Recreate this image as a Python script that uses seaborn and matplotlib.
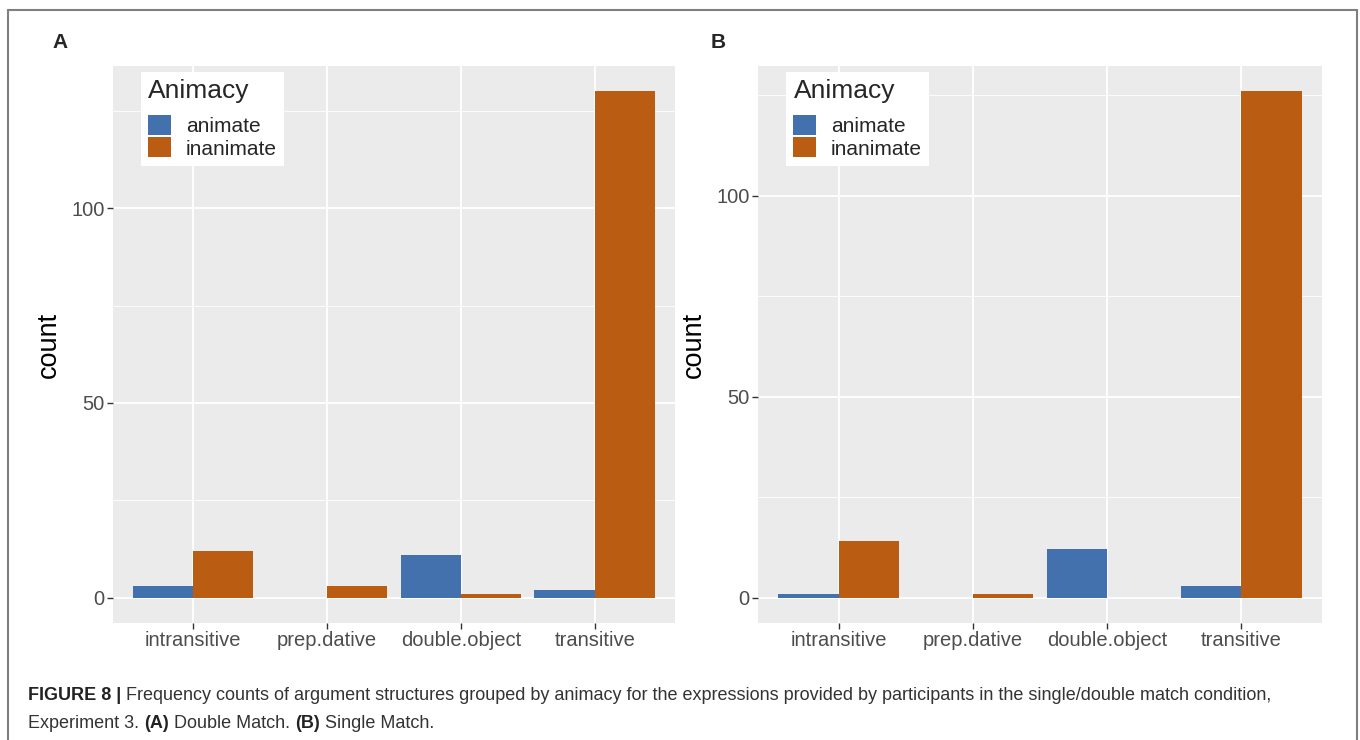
import pandas as pd
import seaborn as sns
import matplotlib.pyplot as plt
from matplotlib.lines import Line2D
from matplotlib.patches import Patch
from matplotlib.ticker import MultipleLocator

# --- Data ---
structures = ['intransitive', 'prep.dative', 'double.object', 'transitive']
animacy_levels = ['animate', 'inanimate']
double_animate = [3, 0, 11, 2]
double_inanimate = [12, 3, 1, 130]
single_animate = [1, 0, 12, 3]
single_inanimate = [14, 1, 0, 126]
y_ticks = [0, 50, 100]
panel_labels = ['A', 'B']
palette = {'animate': '#4271AE', 'inanimate': '#BA5C12'}

caption_line1 = [('FIGURE 8 | ', 'bold'),
                 ('Frequency counts of argument structures grouped by animacy for the expressions '
                  'provided by participants in the single/double match condition,', 'normal')]
caption_line2 = [('Experiment 3. ', 'normal'), ('(A)', 'bold'), (' Double Match. ', 'normal'),
                 ('(B)', 'bold'), (' Single Match.', 'normal')]


def make_frame(animate, inanimate):
    return pd.DataFrame({
        'structure': structures * 2,
        'Animacy': ['animate'] * len(structures) + ['inanimate'] * len(structures),
        'count': animate + inanimate,
    })


sns.set_theme(style='darkgrid', rc={
    'axes.facecolor': '#EBEBEB',
    'grid.color': 'white',
    'axes.edgecolor': 'none',
})
plt.rcParams['font.family'] = ['Liberation Sans', 'DejaVu Sans']

W, H = 1360, 740
fig = plt.figure(figsize=(W / 100, H / 100), dpi=100)

# panel boxes in pixels: left, top, width, height
panels = [
    (make_frame(double_animate, double_inanimate), [113, 66, 562, 557], 60),
    (make_frame(single_animate, single_inanimate), [758, 66, 564, 557], 718),
]

for (df, (px, py, pw, ph), lab_x), label in zip(panels, panel_labels):
    ax = fig.add_axes([px / W, 1 - (py + ph) / H, pw / W, ph / H])
    sns.barplot(data=df, x='structure', y='count', hue='Animacy', order=structures,
                hue_order=animacy_levels, palette=palette, width=0.9, linewidth=0,
                saturation=1, legend=False, ax=ax)

    # ggplot-style 5% expansion
    ymax = df['count'].max()
    ax.set_ylim(-0.05 * ymax, ymax * 1.05)
    ax.set_xlim(-0.6, len(structures) - 0.4)
    ax.set_yticks(y_ticks)
    ax.yaxis.set_minor_locator(MultipleLocator(25))
    ax.set_axisbelow(True)
    ax.grid(which='major', color='white', linewidth=1.3)
    ax.grid(which='minor', axis='y', color='white', linewidth=0.6)
    for s in ax.spines.values():
        s.set_visible(False)
    ax.tick_params(which='major', length=4, width=1, color='#333333', labelcolor='#4D4D4D',
                   labelsize=14.5, pad=2, left=True, bottom=True)
    ax.tick_params(which='minor', length=0)
    ax.set_xlabel('')
    ax.set_ylabel('count', fontsize=19.5, color='black', labelpad=7)

    handles = [Patch(facecolor=palette[a], edgecolor='none') for a in animacy_levels]
    leg = ax.legend(handles, animacy_levels, title='Animacy', loc='upper left',
                    bbox_to_anchor=(0.05, 0.99), fontsize=15, title_fontsize=19,
                    frameon=True, fancybox=False, framealpha=1, facecolor='white',
                    edgecolor='none', handlelength=1.1, handleheight=1.1,
                    labelspacing=0.05, handletextpad=0.7, borderpad=0.35, borderaxespad=0)
    leg._legend_box.align = 'left'
    leg._legend_box.sep = 9

    fig.text(lab_x / W, 1 - 42 / H, label, fontsize=15, fontweight='bold',
             ha='center', va='center')

# --- frame around the figure ---
frame_kw = dict(transform=fig.transFigure, color='#7F7F7F', linewidth=1.5)
fig.add_artist(Line2D([8 / W, 8 / W], [0, 1 - 10 / H], **frame_kw))
fig.add_artist(Line2D([8 / W, 1357 / W], [1 - 10 / H, 1 - 10 / H], **frame_kw))
fig.add_artist(Line2D([1357 / W, 1357 / W], [0, 1 - 10 / H], **frame_kw))

# --- caption with mixed weights ---
renderer = fig.canvas.get_renderer()


def draw_runs(runs, y_px):
    x = 28 / W
    for text, weight in runs:
        t = fig.text(x, 1 - y_px / H, text, fontsize=13, fontweight=weight,
                     color='#222222' if weight == 'bold' else '#333333', va='center')
        bb = t.get_window_extent(renderer=renderer)
        x = bb.x1 / fig.bbox.width


draw_runs(caption_line1, 696)
draw_runs(caption_line2, 723)

fig.savefig('out.png', dpi=100)
